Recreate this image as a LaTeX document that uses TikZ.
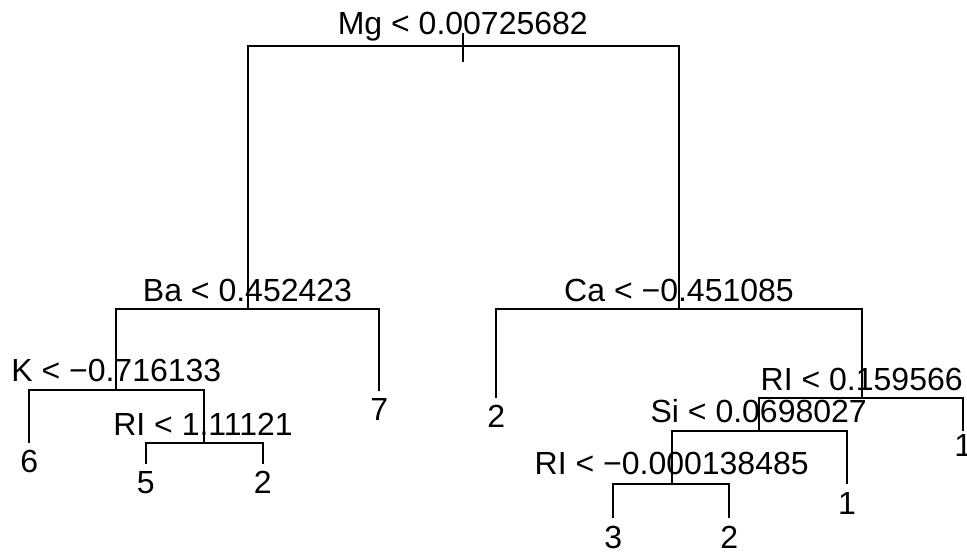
\documentclass[tikz,border=0pt]{standalone}
\usepackage{fontspec}
\setmainfont{Liberation Sans}
\begin{document}
\begin{tikzpicture}[x=0.75pt,y=-0.75pt,
  lab/.style={anchor=base,inner sep=0pt,font=\fontsize{24}{28}\selectfont},
  edge/.style={line width=1.5pt,line cap=butt}]
\useasboundingbox[fill=white] (0,0) rectangle (967,552);
% split points and leaf ends
\coordinate (r) at (463.3,46.5);
\coordinate (rtop) at (463.3,33);
\coordinate (rbot) at (463.3,62);
\coordinate (ba) at (247.5,309.3);
\coordinate (ca) at (679,309.3);
\coordinate (k) at (116.3,390);
\coordinate (l7) at (379.3,390.7);
\coordinate (l6) at (29.3,443.3);
\coordinate (ri1) at (204,443.3);
\coordinate (l5) at (145.7,464.3);
\coordinate (l2a) at (262.7,464.3);
\coordinate (l2b) at (496.3,398.3);
\coordinate (ri2) at (861.7,397.7);
\coordinate (si) at (759,430.7);
\coordinate (l1a) at (963.3,431);
\coordinate (ri3) at (671.7,484.3);
\coordinate (l1b) at (847,484.3);
\coordinate (l3) at (613.3,518.3);
\coordinate (l2c) at (729.3,518.3);
% connectors
\draw[edge] (rtop) -- (rbot);
\draw[edge] (r) -| (ba);
\draw[edge] (r) -| (ca);
\draw[edge] (ba) -| (k);
\draw[edge] (ba) -| (l7);
\draw[edge] (k) -| (l6);
\draw[edge] (k) -| (ri1);
\draw[edge] (ri1) -| (l5);
\draw[edge] (ri1) -| (l2a);
\draw[edge] (ca) -| (l2b);
\draw[edge] (ca) -| (ri2);
\draw[edge] (ri2) -| (si);
\draw[edge] (ri2) -| (l1a);
\draw[edge] (si) -| (ri3);
\draw[edge] (si) -| (l1b);
\draw[edge] (ri3) -| (l3);
\draw[edge] (ri3) -| (l2c);
% split labels
\node[lab] (tMg) at (462.8,34.3) {Mg < 0.00725682};
\node[lab] (tBa) at (247.5,301.7) {Ba < 0.452423};
\node[lab] (tCa) at (679,301.7) {Ca < −0.451085};
\node[lab] (tK) at (116.3,381) {K < −0.716133};
\node[lab] (tRI1) at (203,435.7) {RI < 1.11121};
\node[lab] (tRI2) at (861.7,390) {RI < 0.159566};
\node[lab] (tSi) at (758.7,422.3) {Si < 0.0698027};
\node[lab] (tRI3) at (671.7,474) {RI < −0.000138485};
% leaf labels
\node[lab] (n7) at (379.3,420.7) {7};
\node[lab] (n6) at (29.3,472.7) {6};
\node[lab] (n5) at (145.7,493.3) {5};
\node[lab] (n2a) at (262.7,493.3) {2};
\node[lab] (n2b) at (496.3,427.7) {2};
\node[lab] (n1a) at (963.3,456.7) {1};
\node[lab] (n1b) at (847,514.3) {1};
\node[lab] (n3) at (613.3,548.3) {3};
\node[lab] (n2c) at (729.3,548.3) {2};
\end{tikzpicture}
\end{document}
